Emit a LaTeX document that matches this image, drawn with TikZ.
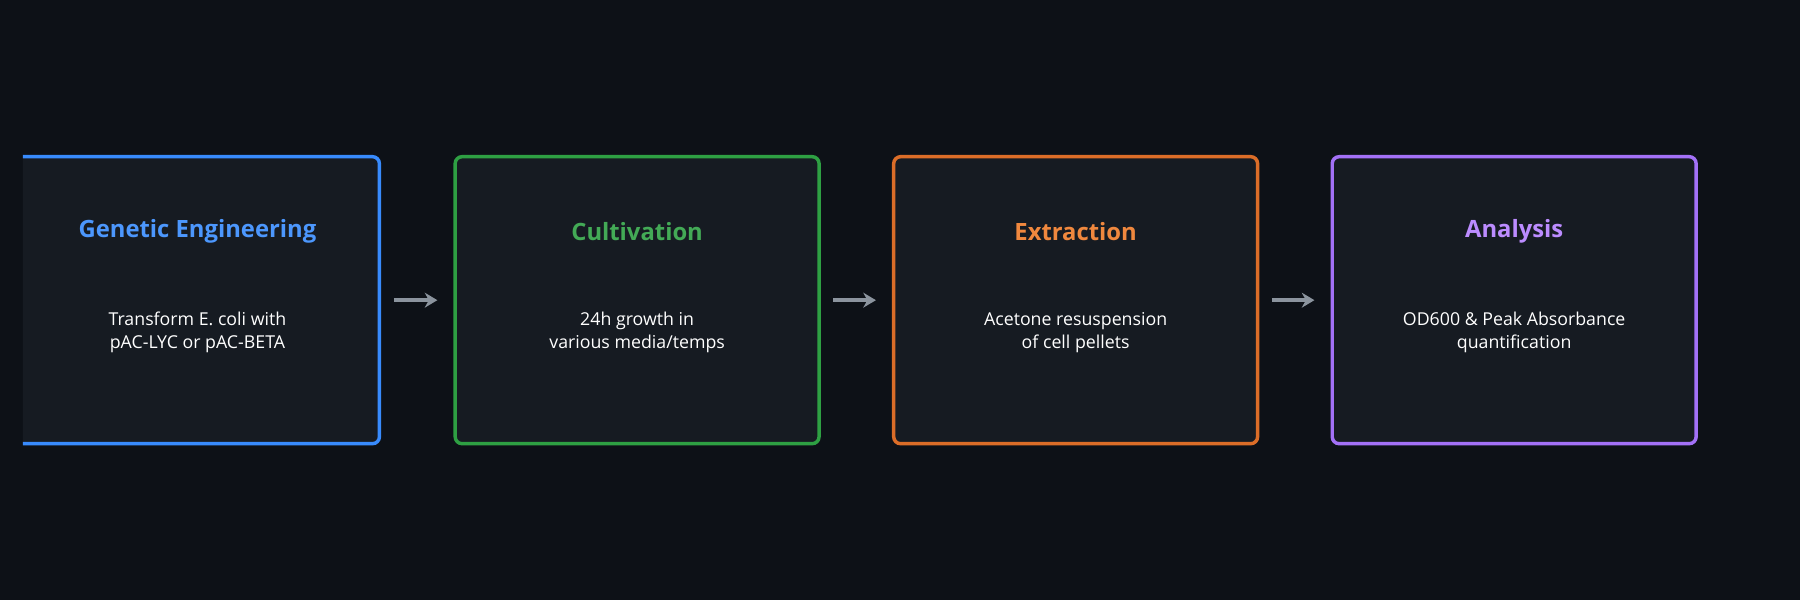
\documentclass[tikz,border=0pt]{standalone}
\usepackage{fontspec}
\setmainfont{Open Sans}
\usetikzlibrary{positioning,arrows.meta}
\definecolor{pagebg}{HTML}{0D1117}
\definecolor{boxbg}{HTML}{161B22}
\definecolor{engblue}{HTML}{388BFD}
\definecolor{cultgreen}{HTML}{2EA043}
\definecolor{extorange}{HTML}{DB6D28}
\definecolor{extlight}{HTML}{F0883E}
\definecolor{anapurple}{HTML}{A371F7}
\definecolor{analight}{HTML}{BC8CFF}
\definecolor{arrowgray}{HTML}{8B949E}
\begin{document}
\begin{tikzpicture}[
		stagebox/.style={draw=#1, fill=boxbg, line width=0.3mm, rounded corners=0.6mm,
			minimum width=31.7mm, minimum height=25mm, inner sep=0pt},
		stagetitle/.style={font=\fontsize{5.9}{7}\selectfont\bfseries},
		stagetext/.style={text=white, align=center, font=\fontsize{4.4}{5.6}\selectfont},
		flow/.style={-{Stealth[length=1.1mm,width=1.3mm]}, arrowgray, line width=0.35mm,
			shorten <=1.1mm, shorten >=1.4mm}]
	\fill[pagebg] (0,0) rectangle (156.8mm,52.3mm);
	\useasboundingbox (0,0) rectangle (156.8mm,52.3mm);
	\begin{scope}
		\clip (2mm,0) rectangle (156.8mm,52.3mm);
		\node[stagebox=engblue] (eng) at (17.2mm,26.15mm) {};
	\end{scope}
	\node[stagebox=cultgreen] (cult) at (55.5mm,26.15mm) {};
	\node[stagebox=extorange] (ext) at (93.7mm,26.15mm) {};
	\node[stagebox=anapurple] (ana) at (131.9mm,26.15mm) {};
	% titles and descriptions
	\node[stagetitle, text=engblue!90!white] (engt) at ([yshift=6mm]eng.center) {Genetic Engineering};
	\node[stagetext] (engd) at ([yshift=-2.8mm]eng.center) {Transform E. coli with\\pAC-LYC or pAC-BETA};
	\node[stagetitle, text=cultgreen!90!white] (cultt) at ([yshift=6mm]cult.center) {Cultivation};
	\node[stagetext] (cultd) at ([yshift=-2.8mm]cult.center) {24h growth in\\various media/temps};
	\node[stagetitle, text=extlight] (extt) at ([yshift=6mm]ext.center) {Extraction};
	\node[stagetext] (extd) at ([yshift=-2.8mm]ext.center) {Acetone resuspension\\of cell pellets};
	\node[stagetitle, text=analight] (anat) at ([yshift=6mm]ana.center) {Analysis};
	\node[stagetext] (anad) at ([yshift=-2.8mm]ana.center) {OD600 \& Peak Absorbance\\quantification};
	% arrows
	\draw[flow] (eng) -- (cult);
	\draw[flow] (cult) -- (ext);
	\draw[flow] (ext) -- (ana);
\end{tikzpicture}
\end{document}
